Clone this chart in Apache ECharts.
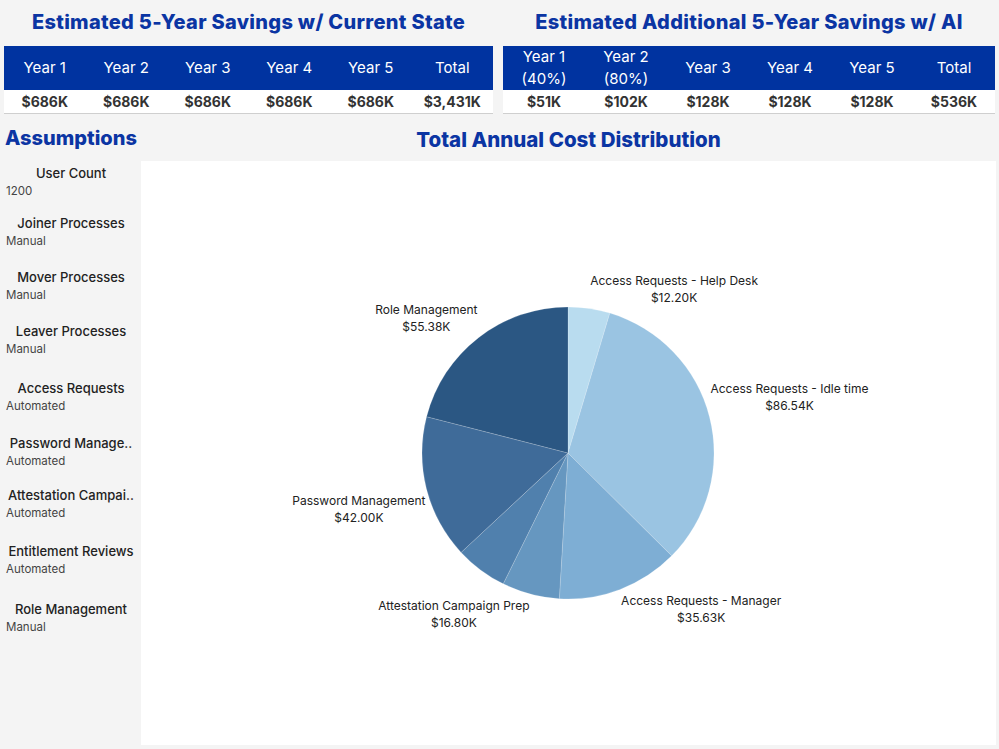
<!DOCTYPE html>
<html>
<head>
<meta charset="utf-8">
<script src="https://cdn.jsdelivr.net/npm/echarts@6/dist/echarts.min.js"></script>
<style>
  html, body { margin: 0; padding: 0; }
  body { width: 999px; height: 749px; background: #f4f4f4; position: relative; overflow: hidden;
         font-family: "Inter", "Open Sans", sans-serif; color: #222; }
  .title { position: absolute; top: 10px; text-align: center; font-size: 20px; font-weight: 800; color: #0b35a3; letter-spacing: 0.3px; white-space: nowrap; }
  table.kpi { position: absolute; top: 46px; border-collapse: collapse; table-layout: fixed; }
  table.kpi th { background: #0033a0; color: #fff; font-weight: 400; font-size: 15px; height: 44px; padding: 0; line-height: 22px; }
  table.kpi td { background: #fff; color: #333; font-weight: 700; font-size: 14px; height: 23px; padding: 0; text-align: center; border-bottom: 1px solid #cfcfcf; }
  #assTitle { position: absolute; left: 5px; top: 126px; font-size: 20px; font-weight: 800; color: #0b35a3; }
  .alabel { position: absolute; left: 0; width: 142px; text-align: center; font-size: 13px; font-weight: 500; color: #222; white-space: nowrap; }
  .avalue { position: absolute; left: 6px; font-size: 11.5px; color: #444; }
  #panel { position: absolute; left: 141px; top: 161px; width: 855px; height: 584px; background: #fff; }
  #chart { position: absolute; left: 141px; top: 120px; width: 855px; height: 629px; }
</style>
</head>
<body>
<div class="title" style="left:4px;width:489px;">Estimated 5-Year Savings w/ Current State</div>
<div class="title" style="left:503px;width:492px;">Estimated Additional 5-Year Savings w/ AI</div>
<table class="kpi" id="t1" style="left:4px;width:489px;"></table>
<table class="kpi" id="t2" style="left:503px;width:492px;"></table>
<div id="assTitle">Assumptions</div>
<div id="ass"></div>
<div id="panel"></div>
<div id="chart"></div>
<script>
// ---- Data ----
const currentHeaders = ['Year 1', 'Year 2', 'Year 3', 'Year 4', 'Year 5', 'Total'];
const currentValues = ['$686K', '$686K', '$686K', '$686K', '$686K', '$3,431K'];
const aiHeaders = ['Year 1\n(40%)', 'Year 2\n(80%)', 'Year 3', 'Year 4', 'Year 5', 'Total'];
const aiValues = ['$51K', '$102K', '$128K', '$128K', '$128K', '$536K'];

const assumptionLabels = ['User Count', 'Joiner Processes', 'Mover Processes', 'Leaver Processes', 'Access Requests',
  'Password Manage..', 'Attestation Campai..', 'Entitlement Reviews', 'Role Management'];
const assumptionValues = ['1200', 'Manual', 'Manual', 'Manual', 'Automated', 'Automated', 'Automated', 'Automated', 'Manual'];

const costCategories = ['Access Requests - Help Desk', 'Access Requests - Idle time', 'Access Requests - Manager',
  'Attestation Campaign Prep', 'Entitlement Reviews', 'Password Management', 'Role Management'];
const costValues = [12.20, 86.54, 35.63, 16.80, 15.2, 42.00, 55.38];   // $K
const costLabelShown = [true, true, true, true, false, true, true];
const sliceColors = ['#b9dcef', '#9ac4e2', '#7eaed4', '#6697c0', '#5080ad', '#3f6b99', '#2b5783'];

// ---- Tables ----
function buildTable(id, headers, values) {
  const t = document.getElementById(id);
  const hr = document.createElement('tr');
  headers.forEach(h => { const th = document.createElement('th'); th.innerHTML = h.replace('\n', '<br>'); hr.appendChild(th); });
  const vr = document.createElement('tr');
  values.forEach(v => { const td = document.createElement('td'); td.textContent = v; vr.appendChild(td); });
  t.appendChild(hr); t.appendChild(vr);
}
buildTable('t1', currentHeaders, currentValues);
buildTable('t2', aiHeaders, aiValues);

// ---- Assumptions ----
const labelTops = [165, 215, 269, 323, 380, 435, 487, 543, 601];
const ass = document.getElementById('ass');
assumptionLabels.forEach((l, i) => {
  const a = document.createElement('div'); a.className = 'alabel'; a.style.top = labelTops[i] + 'px'; a.textContent = l; ass.appendChild(a);
  const v = document.createElement('div'); v.className = 'avalue'; v.style.top = (labelTops[i] + 19) + 'px'; v.textContent = assumptionValues[i]; ass.appendChild(v);
});

// ---- Pie ----
const CX = 427, CY = 333, R = 146, GAP = 3;
const chart = echarts.init(document.getElementById('chart'), null, { renderer: 'svg' });
chart.setOption({
  animation: false,
  textStyle: { fontFamily: 'Inter, "Open Sans", sans-serif' },
  title: {
    text: 'Total Annual Cost Distribution', left: 'center', top: 4,
    textStyle: { fontSize: 20.5, fontWeight: 800, color: '#0b35a3', fontFamily: 'Inter, sans-serif' }
  },
  series: [{
    type: 'pie',
    center: [CX, CY],
    radius: [0, R],
    startAngle: 90,
    clockwise: true,
    avoidLabelOverlap: false,
    itemStyle: { borderColor: 'rgba(255,255,255,0.35)', borderWidth: 0.5 },
    label: {
      show: true, position: 'outside', distanceToLabelLine: 1,
      fontSize: 12, lineHeight: 17, color: '#222',
      formatter: p => p.name + '\n$' + p.value.toFixed(2) + 'K'
    },
    labelLine: { show: false, length: 0, length2: 0 },
    labelLayout: function (p) {
      const r = p.labelRect;
      const up = (r.y + r.height / 2) < CY;
      return { x: r.x + r.width / 2, y: up ? r.y - GAP : r.y + r.height + GAP, align: 'center', verticalAlign: 'middle' };
    },
    emphasis: { disabled: true },
    data: costCategories.map((n, i) => ({
      name: n, value: costValues[i],
      itemStyle: { color: sliceColors[i] },
      label: { show: costLabelShown[i] }
    }))
  }]
});
</script>
</body>
</html>
